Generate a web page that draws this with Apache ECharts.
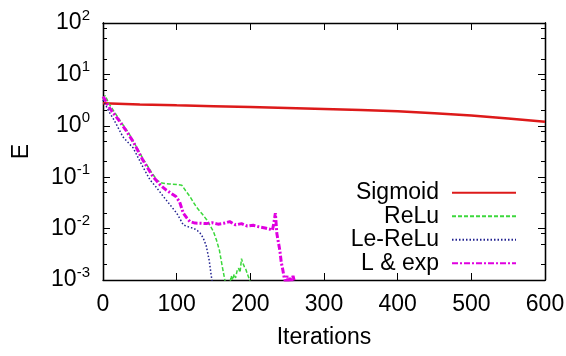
<!DOCTYPE html>
<html>
<head>
<meta charset="utf-8">
<script src="https://cdn.jsdelivr.net/npm/echarts@6/dist/echarts.min.js"></script>
<style>
  html, body { margin: 0; padding: 0; background: #fff; }
  #chart { width: 566px; height: 356px; }
</style>
</head>
<body>
<div id="chart"></div>
<script>
// values (x = iterations, y = E)
const seriesNames = ['Sigmoid', 'ReLu', 'Le-ReLu', 'L & exp'];

const sigmoidIter = [0, 50, 100, 150, 200, 250, 300, 350, 400, 450, 500, 550, 600];
const sigmoidE = [2.74, 2.60, 2.50, 2.41, 2.32, 2.23, 2.13, 2.03, 1.91, 1.76, 1.58, 1.39, 1.20];

const reluIter = [0, 3, 8, 15, 25, 35, 45, 55, 65, 73, 80, 90, 100, 107, 112, 118, 127, 135, 141, 146,
  150, 154, 158, 162, 166, 172, 174, 176, 178, 180, 182, 184, 186, 188, 190, 192, 194, 196, 198, 201];
const reluE = [3.4, 3.9, 2.7, 1.9, 1.15, 0.72, 0.40, 0.22, 0.13, 0.088, 0.077, 0.074, 0.072, 0.070, 0.055,
  0.042, 0.026, 0.019, 0.0147, 0.011, 0.0087, 0.006, 0.0038, 0.0018, 0.0009, 0.0008, 0.0012, 0.0010,
  0.0013, 0.0011, 0.0015, 0.0017, 0.0014, 0.0026, 0.0021, 0.0018, 0.0016, 0.0013, 0.0011, 0.0008];

const leReluIter = [0, 3, 8, 15, 27, 41, 54, 64, 73, 82, 91, 100, 105, 109, 116, 123, 128, 132, 136, 140,
  144, 147, 149];
const leReluE = [3.2, 2.6, 1.9, 1.3, 0.61, 0.37, 0.16, 0.088, 0.062, 0.042, 0.029, 0.020, 0.015, 0.0118,
  0.0108, 0.0101, 0.0092, 0.0081, 0.0066, 0.0047, 0.0025, 0.0012, 0.0008];

const lExpIter = [0, 3, 8, 15, 23, 32, 41, 54, 68, 78, 86, 92, 99, 104, 109, 114, 118, 125, 132, 140,
  148, 156, 164, 172, 180, 188, 196, 204, 212, 220, 226, 230, 232, 234, 236, 238, 240, 242, 244, 246,
  248, 250, 252, 254, 256, 258, 261];
const lExpE = [3.7, 3.2, 2.3, 1.7, 1.2, 0.78, 0.49, 0.216, 0.102, 0.070, 0.056, 0.049, 0.042, 0.033, 0.020,
  0.016, 0.0137, 0.0128, 0.0127, 0.0125, 0.0130, 0.0122, 0.0127, 0.0137, 0.0118, 0.0125, 0.0112, 0.0116,
  0.0108, 0.0103, 0.0098, 0.0093, 0.0130, 0.0200, 0.0080, 0.0055, 0.0038, 0.0022, 0.0016, 0.0011,
  0.0009, 0.0012, 0.0008, 0.0011, 0.0009, 0.0012, 0.0008];

const xTicks = [0, 100, 200, 300, 400, 500, 600];
const yMinorTicks = [0.002, 0.005, 0.008, 0.02, 0.05, 0.08, 0.2, 0.5, 0.8, 2, 5, 8, 20, 50, 80];

const FONT = 'Liberation Sans';

function pairs(xs, ys) {
  return xs.map((x, i) => [x, ys[i]]);
}

const frameLine = { show: true, onZero: false, lineStyle: { color: '#000', width: 1.3 } };

function yAxisBase(pos, minor) {
  return {
    type: 'log',
    logBase: 10,
    min: 0.001,
    max: 100,
    position: pos,
    axisLine: frameLine,
    splitLine: { show: false },
    axisTick: minor
      ? { show: true, inside: true, length: 4, customValues: yMinorTicks, lineStyle: { color: '#000', width: 1 } }
      : { show: true, inside: true, length: 7, lineStyle: { color: '#000', width: 1 } },
    axisLabel: { show: false }
  };
}

const yMain = yAxisBase('left', false);
yMain.name = 'E';
yMain.nameLocation = 'middle';
yMain.nameGap = 70;
yMain.nameTextStyle = { fontFamily: FONT, fontSize: 23, color: '#000' };
yMain.axisLabel = {
  show: true,
  margin: 13,
  formatter: v => '{b|10}{s|' + Math.round(Math.log10(v)) + '}',
  rich: {
    b: { fontFamily: FONT, fontSize: 23, color: '#000', lineHeight: 30 },
    s: { fontFamily: FONT, fontSize: 15, color: '#000', verticalAlign: 'top', lineHeight: 16 }
  }
};

function xAxisBase(pos) {
  return {
    type: 'value',
    min: 0,
    max: 600,
    interval: 100,
    position: pos,
    axisLine: frameLine,
    splitLine: { show: false },
    axisTick: { show: true, inside: true, length: 7, customValues: xTicks, lineStyle: { color: '#000', width: 1 } },
    axisLabel: { show: false }
  };
}

const xMain = xAxisBase('bottom');
xMain.name = 'Iterations';
xMain.nameLocation = 'middle';
xMain.nameGap = 46;
xMain.nameTextStyle = { fontFamily: FONT, fontSize: 23, color: '#000' };
xMain.axisLabel = { show: true, margin: 13, fontFamily: FONT, fontSize: 23, color: '#000', customValues: xTicks };

const lineSeries = (name, data, color, width, type) => ({
  name: name,
  type: 'line',
  data: data,
  xAxisIndex: 0,
  yAxisIndex: 0,
  showSymbol: false,
  symbol: 'none',
  clip: true,
  lineStyle: { color: color, width: width, type: type },
  itemStyle: { color: color }
});

const option = {
  animation: false,
  backgroundColor: '#fff',
  grid: { left: 103, right: 21, top: 23, bottom: 76, containLabel: false, outerBoundsMode: 'none' },
  xAxis: [xMain, xAxisBase('top')],
  yAxis: [yMain, yAxisBase('left', true), yAxisBase('right', false), yAxisBase('right', true)],
  legend: {
    orient: 'vertical',
    align: 'right',
    right: 49,
    top: 181,
    padding: 0,
    itemGap: 0,
    itemWidth: 64,
    itemHeight: 14,
    itemStyle: { opacity: 0, borderWidth: 0 },
    textStyle: { fontFamily: FONT, fontSize: 23, color: '#000', lineHeight: 23.5, padding: [0, 8, 0, 0] },
    data: seriesNames
  },
  series: [
    lineSeries(seriesNames[0], pairs(sigmoidIter, sigmoidE), '#dd1a1a', 2.5, 'solid'),
    lineSeries(seriesNames[1], pairs(reluIter, reluE), '#3cd83c', 1.5, [4, 2]),
    lineSeries(seriesNames[2], pairs(leReluIter, leReluE), '#20208f', 1.5, [1.5, 2]),
    lineSeries(seriesNames[3], pairs(lExpIter, lExpE), '#e000e0', 3, [6, 2, 2, 2])
  ]
};

const chart = echarts.init(document.getElementById('chart'), null, { renderer: 'canvas' });
chart.setOption(option);
</script>
</body>
</html>
